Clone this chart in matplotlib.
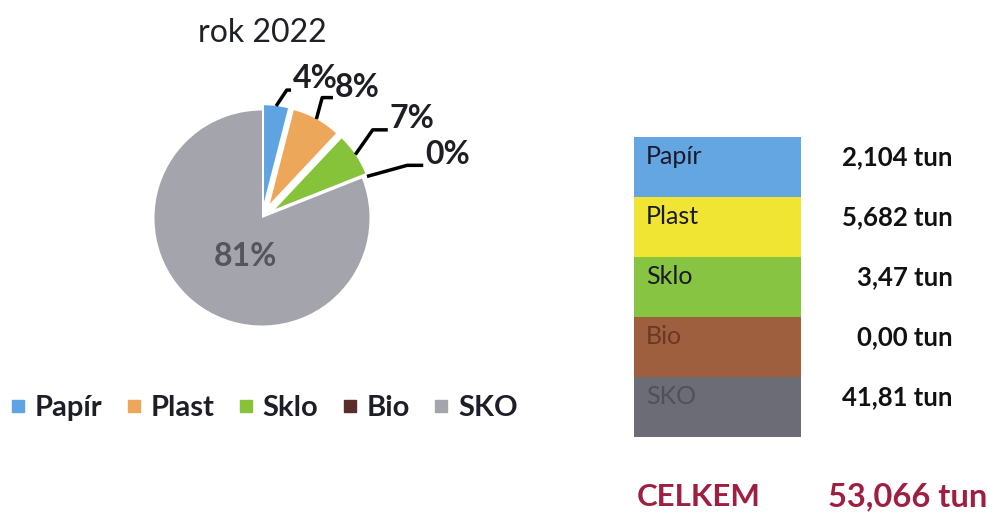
import matplotlib
matplotlib.use("Agg")
import matplotlib.pyplot as plt
from matplotlib.lines import Line2D
import numpy as np

plt.rcParams['font.family'] = ['Lato', 'DejaVu Sans']

# data
kategorie = ['Papír', 'Plast', 'Sklo', 'Bio', 'SKO']
podil = [4, 8, 7, 0, 81]              # % in the pie
tuny_text = ['2,104 tun', '5,682 tun', '3,47 tun', '0,00 tun', '41,81 tun']
celkem_text = '53,066 tun'
rok = 'rok 2022'

barvy_pie = ['#5ea4e2', '#eda75a', '#86c23a', '#5a2d2a', '#a4a4ac']
barvy_tab = ['#63a6e2', '#f1e533', '#86c441', '#9e5f3f', '#6c6c76']
barvy_txt = ['#1a1a2a', '#1a1a2a', '#1a1a2a', '#6a3826', '#505058']

W, H = 994, 516
fig = plt.figure(figsize=(W / 100, H / 100), dpi=100)

def fx(x):
    return x / W

def fy(y):
    return 1 - y / H

# pie: centre (262,218) px, radius 107.5 px
cx, cy, unit = 262, 218, 107.5
half = 200
ax = fig.add_axes([fx(cx - half), fy(cy + half), 2 * half / W, 2 * half / H])
explode = [0.15, 0.15, 0.15, 0.15, 0]
wedges, _ = ax.pie(podil, colors=barvy_pie, explode=explode, startangle=90,
                   counterclock=False, radius=1, wedgeprops=dict(linewidth=0))
for w in wedges[:4]:
    w.set_radius(0.9)
lim = half / unit
ax.set_xlim(-lim, lim)
ax.set_ylim(-lim, lim)
ax.set_aspect('equal')
ax.axis('off')

# labels with leader lines
label_pos = [(0.29, 1.30), (0.68, 1.21), (1.19, 0.93), (1.52, 0.59)]
elbow_pos = [(0.23, 1.19), (0.56, 1.12), (1.03, 0.82), (1.35, 0.49)]
for i in range(4):
    w = wedges[i]
    mid = np.deg2rad((w.theta1 + w.theta2) / 2)
    c = w.center
    sx = c[0] + 0.9 * np.cos(mid)
    sy = c[1] + 0.9 * np.sin(mid)
    lx, ly = label_pos[i]
    ex, ey = elbow_pos[i]
    ax.plot([sx, ex, lx - 0.02], [sy, ey, ey], color='black', lw=2.5,
            solid_capstyle='butt', clip_on=False)
    ax.text(lx, ly, f'{podil[i]}%', fontsize=23, fontweight='bold',
            color='#1e1e24', ha='left', va='center')
ax.text((245 - cx) / unit, (cy - 257) / unit, f'{podil[4]}%', fontsize=23,
        fontweight='bold', color='#55555b', ha='center', va='center')

fig.text(fx(262), fy(33), rok, fontsize=23, color='#202028',
         ha='center', va='center')

# legend
handles = [Line2D([], [], marker='s', linestyle='none', markersize=8.5,
                  markerfacecolor=c, markeredgecolor=c) for c in barvy_pie]
leg = fig.legend(handles, kategorie, loc='center left',
                 bbox_to_anchor=(fx(10), fy(408)), ncol=5, frameon=False,
                 prop=dict(size=21, weight='bold'), handlelength=0.55,
                 handletextpad=0.3, columnspacing=0.8, borderpad=0,
                 borderaxespad=0)
for t in leg.get_texts():
    t.set_color('#1e1e28')

# table
tx0, tx1, ty0, ty1 = 634, 801, 137, 437
axt = fig.add_axes([fx(tx0), fy(ty1), (tx1 - tx0) / W, (ty1 - ty0) / H])
rows = np.arange(len(kategorie))
axt.barh(rows, [1] * len(rows), height=1, color=barvy_tab, left=0)
axt.set_xlim(0, 1)
axt.set_ylim(len(rows) - 0.5, -0.5)
axt.axis('off')
tr = axt.get_yaxis_transform()
for i in rows:
    axt.text(12 / (tx1 - tx0), i - 0.17, kategorie[i], transform=tr,
             fontsize=18, color=barvy_txt[i], ha='left', va='center')
    axt.text((953 - tx0) / (tx1 - tx0), i - 0.17, tuny_text[i], transform=tr,
             fontsize=18.5, fontweight='bold', color='#111111', ha='right',
             va='center', clip_on=False)

fig.text(fx(637), fy(497), 'CELKEM', fontsize=22.5, fontweight='bold',
         color='#9e1f40', ha='left', va='center')
fig.text(fx(987), fy(497), celkem_text, fontsize=23.5, fontweight='bold',
         color='#9e1f40', ha='right', va='center')

fig.savefig('out.png', dpi=100)
